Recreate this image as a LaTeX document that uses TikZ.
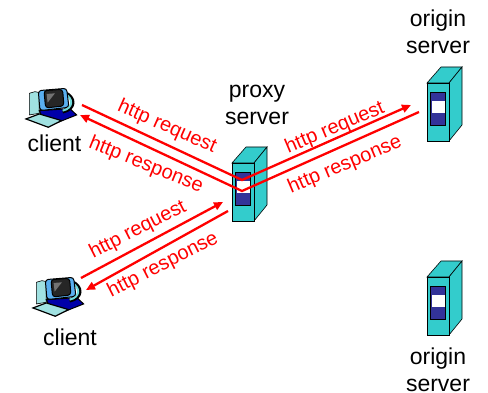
\documentclass[tikz,border=0pt]{standalone}
\usepackage{fontspec}
\setmainfont{Liberation Sans}
\usetikzlibrary{arrows.meta}
\definecolor{srvteal}{RGB}{51,204,204}
\definecolor{srvblue}{RGB}{51,51,153}
\definecolor{pcblue}{RGB}{0,0,170}
\definecolor{pcsky}{RGB}{90,175,240}
\definecolor{pcpale}{RGB}{160,225,225}
\tikzset{
  lbl/.style={font=\fontsize{23}{27}\selectfont,text=black,inner sep=0pt},
  msg/.style={font=\fontsize{20}{20}\selectfont,text=red,inner sep=0pt},
  link/.style={draw=red,line width=2.3pt,line join=miter},
  tip/.style={-{Triangle[length=9pt,width=8pt]}},
  servericon/.pic={
    \filldraw[fill=srvteal,draw=black,line width=.6pt] (0,0) -- (14,-16) -- (35,-16) -- (22,0) -- cycle;
    \filldraw[fill=srvteal,draw=black,line width=.6pt] (22,0) -- (35,-16) -- (35,42) -- (22,58) -- cycle;
    \filldraw[fill=srvteal,draw=black,line width=.6pt] (0,0) rectangle (22,58);
    \filldraw[fill=srvblue,draw=black,line width=.8pt] (3,9) rectangle (18,42);
    \fill[white] (4.5,18) rectangle (17.5,30);
  },
  clienticon/.pic={
    \begin{scope}[scale=.333,line width=.6pt]
      % tower
      \filldraw[fill=pcpale,draw=black] (88,70) -- (105,65) -- (118,68) -- (118,130) -- (88,135) -- cycle;
      % base and keyboard
      \filldraw[fill=pcblue,draw=black,line width=1pt] (118,122) -- (210,116) -- (230,135) -- (172,158) -- (125,137) -- cycle;
      \filldraw[fill=pcpale,draw=black,line width=1.2pt] (78,147) -- (118,132) -- (185,152) -- (145,172) -- cycle;
      % arm behind the monitor
      \draw[black,line width=3.2pt] (195,68) .. controls (228,82) and (228,118) .. (188,126);
      \draw[srvteal!70!white,line width=2pt] (195,72) .. controls (221,85) and (221,115) .. (188,122);
      % monitor
      \filldraw[fill=pcsky,draw=black,line width=1pt,rounded corners=3pt] (115,62) -- (200,55) -- (207,112) -- (120,122) -- cycle;
      \filldraw[fill=black!85,draw=black,line width=1pt,rounded corners=3pt] (132,62) -- (188,58) -- (192,108) -- (137,114) -- cycle;
      \fill[black!55] (140,72) -- (165,70) -- (143,98) -- cycle;
    \end{scope}
  }
}
\begin{document}
\begin{tikzpicture}[x=1pt,y=-1pt]
    \useasboundingbox (0,0) rectangle (488,393);

    % icons
    \pic (proxy) at (232,163) {servericon};
    \pic (originA) at (427,83) {servericon};
    \pic (originB) at (427,277) {servericon};
    \pic (clientA) at (0,70) {clienticon};
    \pic (clientB) at (7,259) {clienticon};

    % captions
    \node[lbl,anchor=base] (clientAtxt) at (54.5,152) {client};
    \node[lbl,anchor=base] (clientBtxt) at (70,345) {client};
    \node[lbl,align=center,anchor=south] (proxytxt) at (257,125) {proxy\\server};
    \node[lbl,align=center,anchor=south] (originAtxt) at (438,54) {origin\\server};
    \node[lbl,align=center,anchor=south] (originBtxt) at (438,392) {origin\\server};

    % end points of the links
    \coordinate (a1) at (82,105);
    \coordinate (a2) at (242,180);
    \coordinate (a3) at (411,105);
    \coordinate (b1) at (419,112);
    \coordinate (b2) at (242,191);
    \coordinate (b3) at (80,115);
    \coordinate (c1) at (81,278);
    \coordinate (c2) at (223,202);
    \coordinate (d1) at (228,211);
    \coordinate (d2) at (86,290);

    \draw[link,tip] (a1) -- (a2) -- (a3);
    \draw[link,tip] (b1) -- (b2) -- (b3);
    \draw[link,tip] (c1) -- (c2);
    \draw[link,tip] (d1) -- (d2);

    % link labels
    \node[msg,rotate=-24] (reqA) at (167,127) {http request};
    \node[msg,rotate=-22] (respA) at (146,165) {http response};
    \node[msg,rotate=23] (reqB) at (335,128) {http request};
    \node[msg,rotate=23] (respB) at (345,165) {http response};
    \node[msg,rotate=27] (reqC) at (138,230) {http request};
    \node[msg,rotate=27] (respC) at (163,265) {http response};
\end{tikzpicture}
\end{document}
